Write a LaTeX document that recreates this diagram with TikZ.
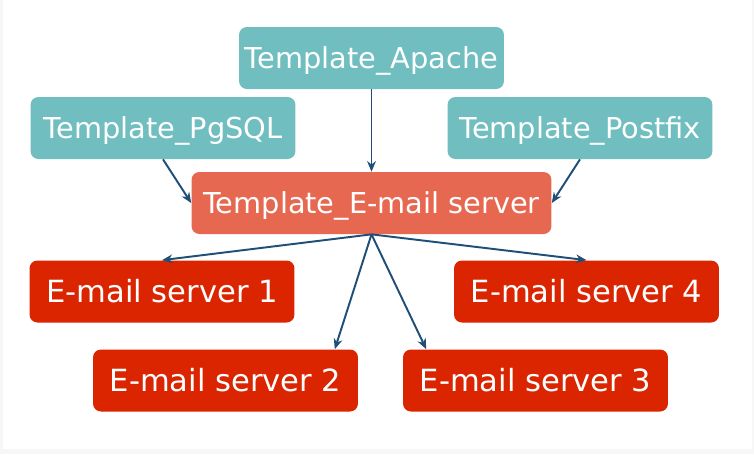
\documentclass[tikz,border=0pt]{standalone}
\usepackage{fontspec}
\setmainfont{DejaVu Sans}
\usepackage{xcolor}
\usetikzlibrary{arrows.meta}

\definecolor{tplteal}{RGB}{112,190,192}
\definecolor{tplsalmon}{RGB}{230,104,80}
\definecolor{srvred}{RGB}{218,37,0}
\definecolor{linkblue}{RGB}{31,78,121}
\definecolor{edgegray}{RGB}{247,247,247}

\tikzset{
  tplbox/.style={rounded corners=4.5pt, text=white, minimum height=1.24cm,
    minimum width=5.3cm, font=\fontsize{16.4}{19}\selectfont, inner sep=0pt,
    text height=0.42cm, text depth=0pt},
  srvbox/.style={tplbox, fill=srvred, font=\fontsize{17.4}{20}\selectfont},
  link/.style={-{Stealth[length=6pt,width=5pt]}, line width=1.1pt, draw=linkblue}
}

\begin{document}
\begin{tikzpicture}[x=0.02cm, y=-0.02cm]
    % Frame
    \fill[edgegray] (0,0) rectangle (754,454);
    \fill[white] (3,0) rectangle (752,449);

    % Top templates
    \node[tplbox, fill=tplteal] (apache) at (371.5,58) {Template\_Apache};
    \node[tplbox, fill=tplteal] (pgsql) at (163,128) {Template\_PgSQL};
    \node[tplbox, fill=tplteal] (postfix) at (580,128) {Template\_Postfix};

    % Combined template
    \node[tplbox, fill=tplsalmon, minimum width=7.2cm] (mailtpl) at (371.5,203) {Template\_E-mail server};

    % Hosts
    \node[srvbox] (srvA) at (162,291.5) {E-mail server 1};
    \node[srvbox] (srvD) at (586.5,291.5) {E-mail server 4};
    \node[srvbox] (srvB) at (225.5,380.5) {E-mail server 2};
    \node[srvbox] (srvC) at (535.5,380.5) {E-mail server 3};

    % Links into the combined template
    \draw[link] (apache.south) -- (mailtpl.north);
    \draw[link] (pgsql.south) -- (mailtpl.west);
    \draw[link] (postfix.south) -- (mailtpl.east);

    % Links to the hosts
    \draw[link] (mailtpl.south) -- (srvA.north);
    \draw[link] (mailtpl.south) -- (srvB.16);
    \draw[link] (mailtpl.south) -- (srvC.164);
    \draw[link] (mailtpl.south) -- (srvD.north);
\end{tikzpicture}
\end{document}
